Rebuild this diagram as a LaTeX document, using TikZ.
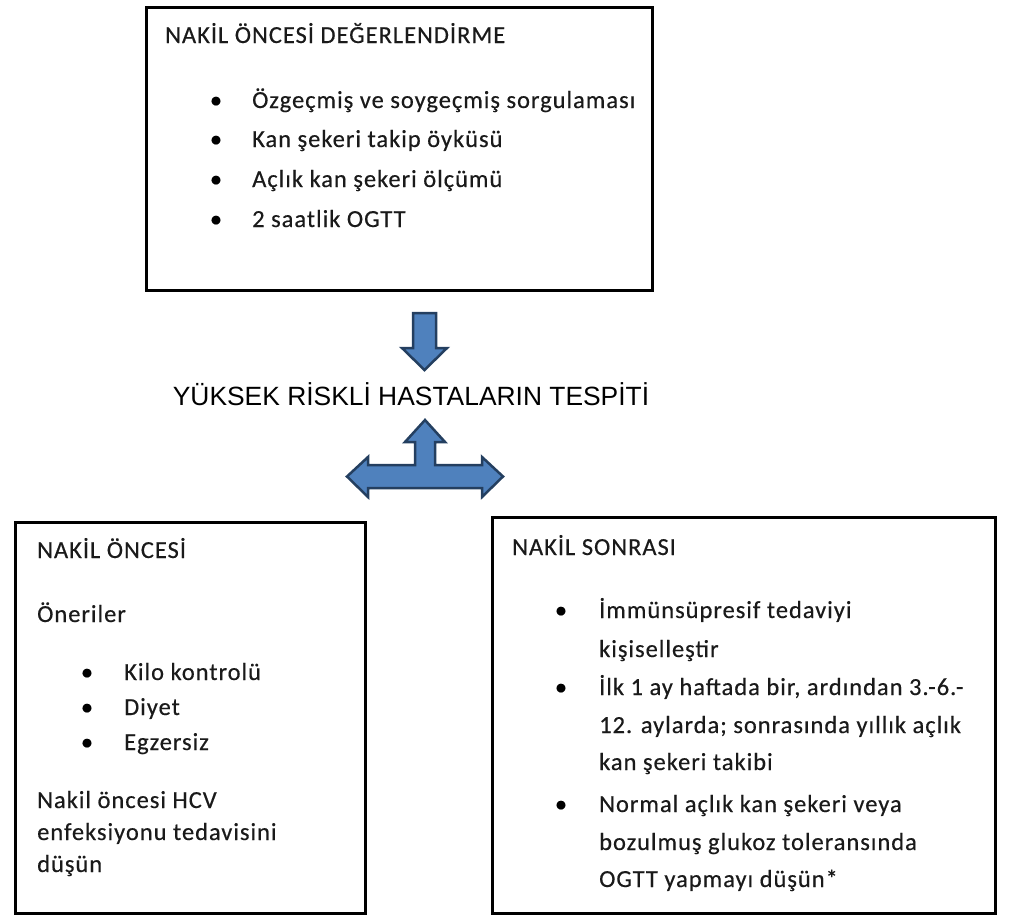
\documentclass[tikz,border=0pt]{standalone}
\usepackage{fontspec}
\setmainfont{Carlito}
\newfontfamily\bodyfont{Carlito}[LetterSpace=4,FakeBold=0.4]
\newfontfamily\headfont{Liberation Sans}
\definecolor{arrfill}{HTML}{4F81BD}
\definecolor{arrline}{HTML}{243F60}
\definecolor{inktext}{HTML}{1A1A1A}
\begin{document}
\begin{tikzpicture}[x=1pt,y=-1pt,
  box/.style={draw=black, line width=3pt, rectangle, inner sep=0pt},
  txt/.style={anchor=base west, inner sep=0pt, text=inktext, font=\bodyfont\fontsize{24.5}{28}\selectfont},
  bul/.style={anchor=base, inner sep=0pt, text=black, font=\bodyfont\fontsize{24.5}{28}\selectfont},
  blk/.style={fill=arrfill, draw=arrline, line width=2.5pt, line join=miter},
  head/.style={anchor=base, inner sep=0pt, text=black, font=\headfont\fontsize{26.4}{30}\selectfont}]
\useasboundingbox (0,0) rectangle (1009,918);
\fill[white] (0,0) rectangle (1009,918);
% boxes
\node[box, minimum width=506pt, minimum height=283pt] (topbox) at (399,148.5) {};
\node[box, minimum width=350pt, minimum height=391pt] (leftbox) at (190,717.5) {};
\node[box, minimum width=503pt, minimum height=396pt] (rightbox) at (743.5,715) {};
% top box text
\node[txt] (t0) at (165,43) {NAKİL ÖNCESİ DEĞERLENDİRME};
\node[bul] (tb1) at (216,108) {•};
\node[txt] (t1) at (252,108) {Özgeçmiş ve soygeçmiş sorgulaması};
\node[bul] (tb2) at (216,147) {•};
\node[txt] (t2) at (252,147) {Kan şekeri takip öyküsü};
\node[bul] (tb3) at (216,187) {•};
\node[txt] (t3) at (252,187) {Açlık kan şekeri ölçümü};
\node[bul] (tb4) at (216,227) {•};
\node[txt] (t4) at (252,227) {2 saatlik OGTT};
% middle
\node[head] (mid) at (411,405) {YÜKSEK RİSKLİ HASTALARIN TESPİTİ};
% down arrow
\draw[blk] (413,313) -- (436,313) -- (436,348) -- (447,348) -- (424.5,370) -- (402,348) -- (413,348) -- cycle;
% T arrow
\draw[blk] (425,420) -- (445,442) -- (435,442) -- (435,465) -- (482,465) -- (482,457) -- (503,476.5) -- (482,497) -- (482,488) -- (368,488) -- (368,497) -- (347,476.5) -- (368,457) -- (368,465) -- (415,465) -- (415,442) -- (405,442) -- cycle;
% left box text
\node[txt] (l0) at (37,558) {NAKİL ÖNCESİ};
\node[txt] (l1) at (37,622) {Öneriler};
\node[bul] (lb2) at (87,680) {•};
\node[txt] (l2) at (124,680) {Kilo kontrolü};
\node[bul] (lb3) at (87,715) {•};
\node[txt] (l3) at (124,715) {Diyet};
\node[bul] (lb4) at (87,750) {•};
\node[txt] (l4) at (124,750) {Egzersiz};
\node[txt] (l5) at (37,808) {Nakil öncesi HCV};
\node[txt] (l6) at (37,840) {enfeksiyonu tedavisini};
\node[txt] (l7) at (37,872) {düşün};
% right box text
\node[txt] (r0) at (512,555) {NAKİL SONRASI};
\node[bul] (rb1) at (561,618) {•};
\node[txt] (r1) at (599,618) {İmmünsüpresif tedaviyi};
\node[txt] (r2) at (599,657) {kişiselleştir};
\node[bul] (rb3) at (561,695) {•};
\node[txt] (r3) at (599,695) {İlk 1 ay haftada bir, ardından 3.-6.-};
\node[txt] (r4) at (599,733) {12. aylarda; sonrasında yıllık açlık};
\node[txt] (r5) at (599,770) {kan şekeri takibi};
\node[bul] (rb6) at (561,812) {•};
\node[txt] (r6) at (599,812) {Normal açlık kan şekeri veya};
\node[txt] (r7) at (599,850) {bozulmuş glukoz toleransında};
\node[txt] (r8) at (599,887) {OGTT yapmayı düşün*};
\end{tikzpicture}
\end{document}
